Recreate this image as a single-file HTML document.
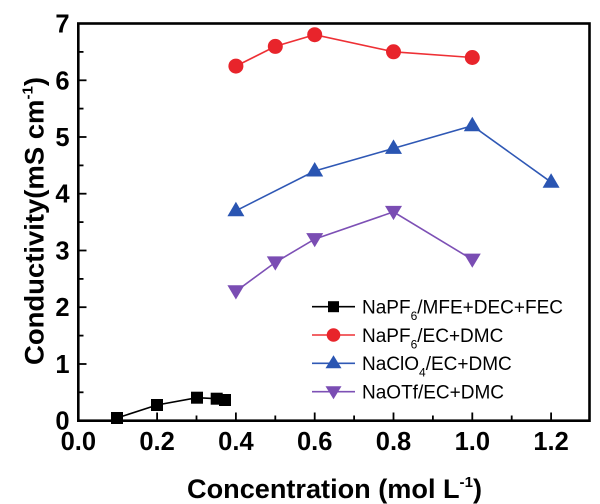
<!DOCTYPE html>
<html>
<head>
<meta charset="utf-8">
<style>
html,body{margin:0;padding:0;background:#fff;}
svg{display:block;}
text{font-family:"Liberation Sans",Arial,sans-serif;}
</style>
</head>
<body>
<svg width="600" height="504" viewBox="0 0 600 504" xmlns="http://www.w3.org/2000/svg">
<rect width="600" height="504" fill="#fff"/>

<!-- ticks -->
<g stroke="#000" stroke-width="1.8">
  <!-- x ticks -->
  <line x1="117.7" y1="420.7" x2="117.7" y2="415.5"/>
  <line x1="157.1" y1="420.7" x2="157.1" y2="412.5"/>
  <line x1="196.5" y1="420.7" x2="196.5" y2="415.5"/>
  <line x1="235.9" y1="420.7" x2="235.9" y2="412.5"/>
  <line x1="275.3" y1="420.7" x2="275.3" y2="415.5"/>
  <line x1="314.7" y1="420.7" x2="314.7" y2="412.5"/>
  <line x1="354.1" y1="420.7" x2="354.1" y2="415.5"/>
  <line x1="393.5" y1="420.7" x2="393.5" y2="412.5"/>
  <line x1="432.9" y1="420.7" x2="432.9" y2="415.5"/>
  <line x1="472.3" y1="420.7" x2="472.3" y2="412.5"/>
  <line x1="511.7" y1="420.7" x2="511.7" y2="415.5"/>
  <line x1="551.1" y1="420.7" x2="551.1" y2="412.5"/>
  <!-- y ticks -->
  <line x1="78.3" y1="392.3" x2="83.5" y2="392.3"/>
  <line x1="78.3" y1="364.0" x2="86.5" y2="364.0"/>
  <line x1="78.3" y1="335.6" x2="83.5" y2="335.6"/>
  <line x1="78.3" y1="307.2" x2="86.5" y2="307.2"/>
  <line x1="78.3" y1="278.9" x2="83.5" y2="278.9"/>
  <line x1="78.3" y1="250.5" x2="86.5" y2="250.5"/>
  <line x1="78.3" y1="222.1" x2="83.5" y2="222.1"/>
  <line x1="78.3" y1="193.7" x2="86.5" y2="193.7"/>
  <line x1="78.3" y1="165.4" x2="83.5" y2="165.4"/>
  <line x1="78.3" y1="137.0" x2="86.5" y2="137.0"/>
  <line x1="78.3" y1="108.6" x2="83.5" y2="108.6"/>
  <line x1="78.3" y1="80.3" x2="86.5" y2="80.3"/>
  <line x1="78.3" y1="51.9" x2="83.5" y2="51.9"/>
</g>

<!-- frame -->
<rect x="78.3" y="23.5" width="511.2" height="397.2" fill="none" stroke="#000" stroke-width="2.6"/>

<!-- y tick labels -->
<g font-size="25.5" font-weight="bold" text-anchor="end" fill="#000">
  <text x="69.5" y="429.7">0</text>
  <text x="69.5" y="373.0">1</text>
  <text x="69.5" y="316.2">2</text>
  <text x="69.5" y="259.5">3</text>
  <text x="69.5" y="202.7">4</text>
  <text x="69.5" y="146.0">5</text>
  <text x="69.5" y="89.3">6</text>
  <text x="69.5" y="32.5">7</text>
</g>

<!-- x tick labels -->
<g font-size="25.5" font-weight="bold" text-anchor="middle" fill="#000">
  <text x="78.3" y="450">0.0</text>
  <text x="157.1" y="450">0.2</text>
  <text x="235.9" y="450">0.4</text>
  <text x="314.7" y="450">0.6</text>
  <text x="393.5" y="450">0.8</text>
  <text x="472.3" y="450">1.0</text>
  <text x="551.1" y="450">1.2</text>
</g>

<!-- axis titles -->
<text x="187" y="498" font-size="27" font-weight="bold" fill="#000" textLength="295" lengthAdjust="spacingAndGlyphs">Concentration (mol L<tspan font-size="15" dy="-11">-1</tspan><tspan dy="11">)</tspan></text>

<text transform="translate(43.3,365) rotate(-90)" x="0" y="0" font-size="26.5" font-weight="bold" fill="#000" textLength="288" lengthAdjust="spacingAndGlyphs">Conductivity(mS cm<tspan font-size="14.5" dy="-11">-1</tspan><tspan dy="11">)</tspan></text>

<!-- series lines -->
<polyline fill="none" stroke="#000" stroke-width="1.6" points="117,418 157,405 197,397.7 216.7,398.7 225,400"/>
<polyline fill="none" stroke="#ee3035" stroke-width="1.6" points="235.9,66.1 275.3,46.4 314.7,34.7 393.5,51.8 472.3,57.5"/>
<polyline fill="none" stroke="#2f58b5" stroke-width="1.6" points="235.9,210.8 314.7,171.0 393.5,148.4 472.3,125.7 551.1,182.2"/>
<polyline fill="none" stroke="#7d50b5" stroke-width="1.6" points="235.9,291.3 275.3,262.4 314.7,239.1 393.5,211.9 472.3,259.6"/>

<!-- black squares -->
<g fill="#000">
  <rect x="111" y="412" width="12" height="12"/>
  <rect x="151" y="399" width="12" height="12"/>
  <rect x="191" y="391.7" width="12" height="12"/>
  <rect x="210.7" y="392.7" width="12" height="12"/>
  <rect x="219" y="394" width="12" height="12"/>
</g>

<!-- red circles -->
<g fill="#e8242b">
  <circle cx="235.9" cy="66.1" r="7.5"/>
  <circle cx="275.3" cy="46.4" r="7.5"/>
  <circle cx="314.7" cy="34.7" r="7.5"/>
  <circle cx="393.5" cy="51.8" r="7.5"/>
  <circle cx="472.3" cy="57.5" r="7.5"/>
</g>

<!-- blue up triangles -->
<g fill="#2a55b2">
  <polygon points="235.9,201.8 227.4,216.3 244.4,216.3"/>
  <polygon points="314.7,162.0 306.2,176.5 323.2,176.5"/>
  <polygon points="393.5,139.4 385.0,153.9 402.0,153.9"/>
  <polygon points="472.3,116.7 463.8,131.2 480.8,131.2"/>
  <polygon points="551.1,173.2 542.6,187.7 559.6,187.7"/>
</g>

<!-- purple down triangles -->
<g fill="#7a4db3">
  <polygon points="227.4,285.3 244.4,285.3 235.9,299.5"/>
  <polygon points="266.8,256.4 283.8,256.4 275.3,270.6"/>
  <polygon points="306.2,233.1 323.2,233.1 314.7,247.3"/>
  <polygon points="385.0,205.9 402.0,205.9 393.5,220.1"/>
  <polygon points="463.8,253.6 480.8,253.6 472.3,267.8"/>
</g>

<!-- legend -->
<g>
  <line x1="312" y1="306.7" x2="355" y2="306.7" stroke="#000" stroke-width="1.6"/>
  <rect x="328" y="301.2" width="11" height="11" fill="#000"/>
  <line x1="312" y1="335" x2="355" y2="335" stroke="#ee3035" stroke-width="1.6"/>
  <circle cx="333.5" cy="335" r="6.8" fill="#e8242b"/>
  <line x1="312" y1="363.3" x2="355" y2="363.3" stroke="#2f58b5" stroke-width="1.6"/>
  <polygon points="333.5,355.3 325.5,368.3 341.5,368.3" fill="#2a55b2"/>
  <line x1="312" y1="391.7" x2="355" y2="391.7" stroke="#7d50b5" stroke-width="1.6"/>
  <polygon points="325.5,386.2 341.5,386.2 333.5,399.2" fill="#7a4db3"/>
</g>
<g font-size="19" fill="#000">
  <text x="362" y="313.5">NaPF<tspan font-size="12" dy="6.5">6</tspan><tspan dy="-6.5">/MFE+DEC+FEC</tspan></text>
  <text x="362" y="341.8">NaPF<tspan font-size="12" dy="6.5">6</tspan><tspan dy="-6.5">/EC+DMC</tspan></text>
  <text x="362" y="370.1">NaClO<tspan font-size="12" dy="6.5">4</tspan><tspan dy="-6.5">/EC+DMC</tspan></text>
  <text x="362" y="398.5">NaOTf/EC+DMC</text>
</g>
</svg>
</body>
</html>
